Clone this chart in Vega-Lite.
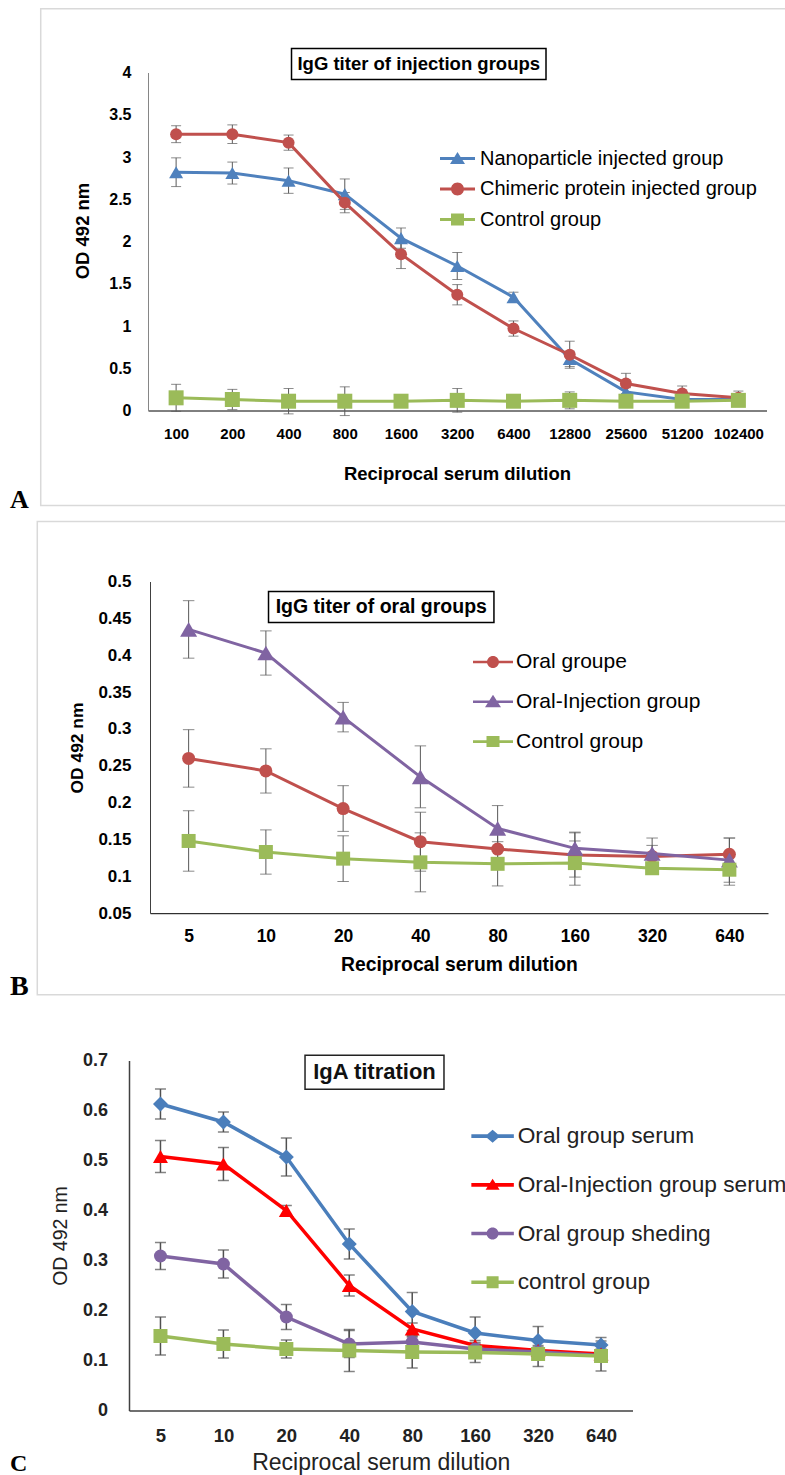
{
  "$schema": "https://vega.github.io/schema/vega-lite/v6.json",
  "config": {"padding": {"left": 10, "top": 7.5, "right": 0, "bottom": 0}, "view": {"stroke": null}, "background": "white", "font": "Liberation Sans"},
  "datasets": {
    "dA": [
      {"group": "Nanoparticle injected group", "dil": 100, "od": 2.82, "err": 0.17},
      {"group": "Nanoparticle injected group", "dil": 200, "od": 2.81, "err": 0.13},
      {"group": "Nanoparticle injected group", "dil": 400, "od": 2.72, "err": 0.15},
      {"group": "Nanoparticle injected group", "dil": 800, "od": 2.56, "err": 0.18},
      {"group": "Nanoparticle injected group", "dil": 1600, "od": 2.04, "err": 0.12},
      {"group": "Nanoparticle injected group", "dil": 3200, "od": 1.71, "err": 0.16},
      {"group": "Nanoparticle injected group", "dil": 6400, "od": 1.34, "err": 0.06},
      {"group": "Nanoparticle injected group", "dil": 12800, "od": 0.61, "err": 0.09},
      {"group": "Nanoparticle injected group", "dil": 25600, "od": 0.22, "err": 0.05},
      {"group": "Nanoparticle injected group", "dil": 51200, "od": 0.13, "err": 0.04},
      {"group": "Nanoparticle injected group", "dil": 102400, "od": 0.13, "err": 0.05},
      {"group": "Chimeric protein injected group", "dil": 100, "od": 3.27, "err": 0.10},
      {"group": "Chimeric protein injected group", "dil": 200, "od": 3.27, "err": 0.11},
      {"group": "Chimeric protein injected group", "dil": 400, "od": 3.17, "err": 0.09},
      {"group": "Chimeric protein injected group", "dil": 800, "od": 2.46, "err": 0.12},
      {"group": "Chimeric protein injected group", "dil": 1600, "od": 1.85, "err": 0.17},
      {"group": "Chimeric protein injected group", "dil": 3200, "od": 1.37, "err": 0.12},
      {"group": "Chimeric protein injected group", "dil": 6400, "od": 0.97, "err": 0.09},
      {"group": "Chimeric protein injected group", "dil": 12800, "od": 0.66, "err": 0.16},
      {"group": "Chimeric protein injected group", "dil": 25600, "od": 0.32, "err": 0.12},
      {"group": "Chimeric protein injected group", "dil": 51200, "od": 0.20, "err": 0.09},
      {"group": "Chimeric protein injected group", "dil": 102400, "od": 0.15, "err": 0.08},
      {"group": "Control group", "dil": 100, "od": 0.15, "err": 0.16},
      {"group": "Control group", "dil": 200, "od": 0.13, "err": 0.12},
      {"group": "Control group", "dil": 400, "od": 0.11, "err": 0.15},
      {"group": "Control group", "dil": 800, "od": 0.11, "err": 0.17},
      {"group": "Control group", "dil": 1600, "od": 0.11, "err": 0.06},
      {"group": "Control group", "dil": 3200, "od": 0.12, "err": 0.14},
      {"group": "Control group", "dil": 6400, "od": 0.11, "err": 0.05},
      {"group": "Control group", "dil": 12800, "od": 0.12, "err": 0.10},
      {"group": "Control group", "dil": 25600, "od": 0.11, "err": 0.05},
      {"group": "Control group", "dil": 51200, "od": 0.11, "err": 0.05},
      {"group": "Control group", "dil": 102400, "od": 0.12, "err": 0.05}
    ],
    "dB": [
      {"group": "Oral groupe", "dil": 5, "od": 0.260, "err": 0.039},
      {"group": "Oral groupe", "dil": 10, "od": 0.243, "err": 0.030},
      {"group": "Oral groupe", "dil": 20, "od": 0.192, "err": 0.031},
      {"group": "Oral groupe", "dil": 40, "od": 0.147, "err": 0.040},
      {"group": "Oral groupe", "dil": 80, "od": 0.137, "err": 0.020},
      {"group": "Oral groupe", "dil": 160, "od": 0.129, "err": 0.030},
      {"group": "Oral groupe", "dil": 320, "od": 0.127, "err": 0.015},
      {"group": "Oral groupe", "dil": 640, "od": 0.130, "err": 0.022},
      {"group": "Oral-Injection group", "dil": 5, "od": 0.435, "err": 0.039},
      {"group": "Oral-Injection group", "dil": 10, "od": 0.403, "err": 0.030},
      {"group": "Oral-Injection group", "dil": 20, "od": 0.316, "err": 0.020},
      {"group": "Oral-Injection group", "dil": 40, "od": 0.235, "err": 0.042},
      {"group": "Oral-Injection group", "dil": 80, "od": 0.165, "err": 0.031},
      {"group": "Oral-Injection group", "dil": 160, "od": 0.138, "err": 0.022},
      {"group": "Oral-Injection group", "dil": 320, "od": 0.131, "err": 0.021},
      {"group": "Oral-Injection group", "dil": 640, "od": 0.122, "err": 0.030},
      {"group": "Control group", "dil": 5, "od": 0.148, "err": 0.041},
      {"group": "Control group", "dil": 10, "od": 0.133, "err": 0.030},
      {"group": "Control group", "dil": 20, "od": 0.124, "err": 0.031},
      {"group": "Control group", "dil": 40, "od": 0.119, "err": 0.040},
      {"group": "Control group", "dil": 80, "od": 0.117, "err": 0.030},
      {"group": "Control group", "dil": 160, "od": 0.118, "err": 0.030},
      {"group": "Control group", "dil": 320, "od": 0.111, "err": 0.008},
      {"group": "Control group", "dil": 640, "od": 0.109, "err": 0.021}
    ],
    "dC": [
      {"group": "Oral group serum", "dil": 5, "od": 0.613, "err": 0.030},
      {"group": "Oral group serum", "dil": 10, "od": 0.577, "err": 0.020},
      {"group": "Oral group serum", "dil": 20, "od": 0.507, "err": 0.038},
      {"group": "Oral group serum", "dil": 40, "od": 0.333, "err": 0.030},
      {"group": "Oral group serum", "dil": 80, "od": 0.198, "err": 0.038},
      {"group": "Oral group serum", "dil": 160, "od": 0.155, "err": 0.032},
      {"group": "Oral group serum", "dil": 320, "od": 0.140, "err": 0.028},
      {"group": "Oral group serum", "dil": 640, "od": 0.131, "err": 0.015},
      {"group": "Oral-Injection group serum", "dil": 5, "od": 0.508, "err": 0.032},
      {"group": "Oral-Injection group serum", "dil": 10, "od": 0.493, "err": 0.033},
      {"group": "Oral-Injection group serum", "dil": 20, "od": 0.400, "err": 0.010},
      {"group": "Oral-Injection group serum", "dil": 40, "od": 0.250, "err": 0.021},
      {"group": "Oral-Injection group serum", "dil": 80, "od": 0.163, "err": 0.012},
      {"group": "Oral-Injection group serum", "dil": 160, "od": 0.130, "err": 0.010},
      {"group": "Oral-Injection group serum", "dil": 320, "od": 0.120, "err": 0.010},
      {"group": "Oral-Injection group serum", "dil": 640, "od": 0.113, "err": 0.010},
      {"group": "Oral group sheding", "dil": 5, "od": 0.309, "err": 0.027},
      {"group": "Oral group sheding", "dil": 10, "od": 0.293, "err": 0.028},
      {"group": "Oral group sheding", "dil": 20, "od": 0.187, "err": 0.025},
      {"group": "Oral group sheding", "dil": 40, "od": 0.133, "err": 0.027},
      {"group": "Oral group sheding", "dil": 80, "od": 0.137, "err": 0.010},
      {"group": "Oral group sheding", "dil": 160, "od": 0.123, "err": 0.010},
      {"group": "Oral group sheding", "dil": 320, "od": 0.117, "err": 0.010},
      {"group": "Oral group sheding", "dil": 640, "od": 0.110, "err": 0.010},
      {"group": "control group", "dil": 5, "od": 0.149, "err": 0.038},
      {"group": "control group", "dil": 10, "od": 0.133, "err": 0.028},
      {"group": "control group", "dil": 20, "od": 0.123, "err": 0.018},
      {"group": "control group", "dil": 40, "od": 0.120, "err": 0.042},
      {"group": "control group", "dil": 80, "od": 0.117, "err": 0.032},
      {"group": "control group", "dil": 160, "od": 0.116, "err": 0.020},
      {"group": "control group", "dil": 320, "od": 0.113, "err": 0.025},
      {"group": "control group", "dil": 640, "od": 0.109, "err": 0.030}
    ]
  },
  "spacing": 7,
  "resolve": {"scale": {"x": "independent", "y": "independent", "color": "independent", "shape": "independent"}, "legend": {"color": "independent", "shape": "independent"}},
  "vconcat": [
    {
      "width": 637.5,
      "height": 338,
      "title": {"text": "A", "orient": "bottom", "anchor": "start", "frame": "group", "dx": -119, "offset": -19, "font": "Liberation Serif", "fontSize": 26, "fontWeight": "bold", "color": "#000", "baseline": "top"},
      "data": {"name": "dA"},
      "encoding": {
        "x": {"field": "dil", "type": "quantitative", "scale": {"type": "log", "base": 2, "domain": [70.7107, 144815.5], "nice": false, "rangeMin": 19},
          "axis": {"title": "Reciprocal serum dilution", "values": [100, 200, 400, 800, 1600, 3200, 6400, 12800, 25600, 51200, 102400], "format": "d", "grid": false, "ticks": false, "domainColor": "#000", "domainWidth": 1, "labelFont": "Liberation Sans", "labelFontSize": 15, "labelFontWeight": "bold", "labelColor": "#000", "labelPadding": 23, "labelBaseline": "middle", "labelFlush": false, "labelOverlap": false, "labelBound": false, "titleFont": "Liberation Sans", "titleFontSize": 18.5, "titleFontWeight": "bold", "titleColor": "#000", "titleY": 63, "titleX": 328, "titleBaseline": "middle"}},
        "y": {"field": "od", "type": "quantitative", "scale": {"domain": [0, 4], "nice": false, "zero": false},
          "axis": {"title": "OD 492 nm", "offset": -19, "values": [0, 0.5, 1, 1.5, 2, 2.5, 3, 3.5, 4], "format": "~g", "grid": false, "ticks": false, "domainColor": "#868686", "domainWidth": 1, "labelFont": "Liberation Sans", "labelFontSize": 16, "labelFontWeight": "bold", "labelColor": "#000", "labelPadding": 17, "labelFlush": false, "labelOverlap": false, "titleFont": "Liberation Sans", "titleFontSize": 18.5, "titleFontWeight": "bold", "titleColor": "#000", "titleX": -65.5, "titleY": 158, "titleBaseline": "middle", "titleAlign": "center", "titleAngle": 270}}
      },
      "layer": [
        {"transform": [{"filter": "datum.dil == 100 && datum.group == 'Control group'"}], "mark": {"type": "rect", "fill": "transparent", "stroke": "#d9d9d9", "strokeWidth": 1.5},
          "encoding": {"x": {"datum": 18.84}, "x2": {"datum": 193600}, "y": {"datum": 4.754}, "y2": {"datum": -1.124}}},
        {"transform": [{"filter": "datum.dil == 100 && datum.group == 'Control group'"}], "mark": {"type": "rect", "fill": "white", "stroke": "#000", "strokeWidth": 1.5},
          "encoding": {"x": {"datum": 414.8}, "x2": {"datum": 9557}, "y": {"datum": 4.284}, "y2": {"datum": 3.917}}},
        {"transform": [{"filter": "datum.dil == 100 && datum.group == 'Control group'"}], "mark": {"type": "text", "text": "IgG titer of injection groups", "font": "Liberation Sans", "fontSize": 18.5, "fontWeight": "bold", "color": "#000", "align": "center", "baseline": "middle"},
          "encoding": {"x": {"datum": 1991}, "y": {"datum": 4.1}}},
        {"mark": {"type": "errorbar", "ticks": true, "size": 10, "thickness": 1, "color": "#595959"},
          "encoding": {"y": {"field": "od", "type": "quantitative"}, "yError": {"field": "err"}}},
        {"transform": [{"filter": "datum.group === 'Nanoparticle injected group'"}],
          "mark": {"type": "line", "strokeWidth": 3, "color": "#4F81BD", "point": {"shape": "triangle-up", "size": 196, "filled": true, "opacity": 1, "color": "#4F81BD"}}},
        {"transform": [{"filter": "datum.group === 'Chimeric protein injected group'"}],
          "mark": {"type": "line", "strokeWidth": 3, "color": "#C0504D", "point": {"shape": "circle", "size": 144, "filled": true, "opacity": 1, "color": "#C0504D"}}},
        {"transform": [{"filter": "datum.group === 'Control group'"}],
          "mark": {"type": "line", "strokeWidth": 3, "color": "#9BBB59", "point": {"shape": "square", "size": 225, "filled": true, "opacity": 1, "color": "#9BBB59"}}},
        {"transform": [{"filter": "false"}],
          "mark": {"type": "point", "filled": true, "opacity": 1},
          "encoding": {
            "color": {"field": "group", "type": "nominal", "scale": {"domain": ["Nanoparticle injected group", "Chimeric protein injected group", "Control group"], "range": ["#4F81BD", "#C0504D", "#9BBB59"]},
              "legend": {"orient": "none", "legendX": 318.5, "legendY": 76, "title": null, "symbolSize": 400, "symbolStrokeWidth": 0, "symbolOffset": 0, "labelFont": "Liberation Sans", "labelFontSize": 20, "labelColor": "#000", "labelOffset": 12.5, "labelLimit": 600, "rowPadding": 10.5, "padding": 0}},
            "shape": {"field": "group", "type": "nominal", "scale": {"domain": ["Nanoparticle injected group", "Chimeric protein injected group", "Control group"], "range": ["M-1.75,-0.15L1.75,-0.15L1.75,0.15L-1.75,0.15Z M0,-0.65L0.75,0.55L-0.75,0.55Z", "M-1.75,-0.15L1.75,-0.15L1.75,0.15L-1.75,0.15Z M-0.65,0A0.65,0.65 0 1,1 0.65,0A0.65,0.65 0 1,1 -0.65,0Z", "M-1.75,-0.15L1.75,-0.15L1.75,0.15L-1.75,0.15Z M-0.65,-0.6L0.65,-0.6L0.65,0.6L-0.65,0.6Z"]},
              "legend": {"orient": "none", "legendX": 318.5, "legendY": 76, "title": null, "symbolSize": 400, "symbolStrokeWidth": 0, "symbolOffset": 0, "labelFont": "Liberation Sans", "labelFontSize": 20, "labelColor": "#000", "labelOffset": 12.5, "labelLimit": 600, "rowPadding": 10.5, "padding": 0}}
          }}
      ]
    },
    {
      "spacing": 50,
      "resolve": {"scale": {"x": "independent", "y": "independent", "color": "independent", "shape": "independent"}, "legend": {"color": "independent", "shape": "independent"}},
      "vconcat": [
        {
          "width": 639,
          "height": 331.7,
          "title": {"text": "B", "orient": "bottom", "anchor": "start", "frame": "group", "dx": -119, "offset": -22.6, "font": "Liberation Serif", "fontSize": 28, "fontWeight": "bold", "color": "#000", "baseline": "top"},
          "data": {"name": "dB"},
          "encoding": {
            "x": {"field": "dil", "type": "quantitative", "scale": {"type": "log", "base": 2, "domain": [3.5355, 905.097], "nice": false, "rangeMin": 21},
              "axis": {"title": "Reciprocal serum dilution", "values": [5, 10, 20, 40, 80, 160, 320, 640], "format": "d", "grid": false, "ticks": false, "domainColor": "#000", "domainWidth": 1, "labelFont": "Liberation Sans", "labelFontSize": 17.5, "labelFontWeight": "bold", "labelColor": "#000", "labelPadding": 23.6, "labelBaseline": "middle", "labelFlush": false, "labelOverlap": false, "labelBound": false, "titleFont": "Liberation Sans", "titleFontSize": 19.3, "titleFontWeight": "bold", "titleColor": "#000", "titleY": 51.3, "titleX": 330, "titleBaseline": "middle"}},
            "y": {"field": "od", "type": "quantitative", "scale": {"domain": [0.05, 0.5], "nice": false, "zero": false},
              "axis": {"title": "OD 492 nm", "offset": -21, "values": [0.05, 0.1, 0.15, 0.2, 0.25, 0.3, 0.35, 0.4, 0.45, 0.5], "format": "~g", "grid": false, "ticks": false, "domainColor": "#404040", "domainWidth": 1, "labelFont": "Liberation Sans", "labelFontSize": 17, "labelFontWeight": "bold", "labelColor": "#000", "labelPadding": 19, "labelFlush": false, "labelOverlap": false, "titleFont": "Liberation Sans", "titleFontSize": 17.4, "titleFontWeight": "bold", "titleColor": "#000", "titleX": -72.5, "titleY": 166, "titleBaseline": "middle", "titleAlign": "center", "titleAngle": 270}}
          },
          "layer": [
            {"transform": [{"filter": "datum.dil == 5 && datum.group == 'Control group'"}], "mark": {"type": "rect", "fill": "transparent", "stroke": "#d9d9d9", "strokeWidth": 1.5},
              "encoding": {"x": {"datum": 1.286}, "x2": {"datum": 1103}, "y": {"datum": 0.5814}, "y2": {"datum": -0.0607}}},
            {"transform": [{"filter": "datum.dil == 5 && datum.group == 'Control group'"}], "mark": {"type": "rect", "fill": "white", "stroke": "#000", "strokeWidth": 1.5},
              "encoding": {"x": {"datum": 10.24}, "x2": {"datum": 77.4}, "y": {"datum": 0.4864}, "y2": {"datum": 0.4444}}},
            {"transform": [{"filter": "datum.dil == 5 && datum.group == 'Control group'"}], "mark": {"type": "text", "text": "IgG titer of oral groups", "font": "Liberation Sans", "fontSize": 19.5, "fontWeight": "bold", "color": "#000", "align": "center", "baseline": "middle"},
              "encoding": {"x": {"datum": 28.16}, "y": {"datum": 0.4654}}},
            {"mark": {"type": "errorbar", "ticks": true, "size": 11.5, "thickness": 1, "color": "#595959"},
              "encoding": {"y": {"field": "od", "type": "quantitative"}, "yError": {"field": "err"}}},
            {"transform": [{"filter": "datum.group === 'Oral groupe'"}],
              "mark": {"type": "line", "strokeWidth": 3, "color": "#C0504D", "point": {"shape": "circle", "size": 169, "filled": true, "opacity": 1, "color": "#C0504D"}}},
            {"transform": [{"filter": "datum.group === 'Oral-Injection group'"}],
              "mark": {"type": "line", "strokeWidth": 3, "color": "#8064A2", "point": {"shape": "triangle-up", "size": 289, "filled": true, "opacity": 1, "color": "#8064A2"}}},
            {"transform": [{"filter": "datum.group === 'Control group'"}],
              "mark": {"type": "line", "strokeWidth": 3, "color": "#9BBB59", "point": {"shape": "square", "size": 196, "filled": true, "opacity": 1, "color": "#9BBB59"}}},
            {"transform": [{"filter": "false"}],
              "mark": {"type": "point", "filled": true, "opacity": 1},
              "encoding": {
                "color": {"field": "group", "type": "nominal", "scale": {"domain": ["Oral groupe", "Oral-Injection group", "Control group"], "range": ["#C0504D", "#8064A2", "#9BBB59"]},
                  "legend": {"orient": "none", "legendX": 353.5, "legendY": 70, "title": null, "symbolSize": 400, "symbolStrokeWidth": 0, "symbolOffset": 0, "labelFont": "Liberation Sans", "labelFontSize": 21, "labelColor": "#000", "labelOffset": 12.5, "labelLimit": 600, "rowPadding": 17.8, "padding": 0}},
                "shape": {"field": "group", "type": "nominal", "scale": {"domain": ["Oral groupe", "Oral-Injection group", "Control group"], "range": ["M-2,-0.13L2,-0.13L2,0.13L-2,0.13Z M-0.6,0A0.6,0.6 0 1,1 0.6,0A0.6,0.6 0 1,1 -0.6,0Z", "M-2,-0.13L2,-0.13L2,0.13L-2,0.13Z M0,-0.7L0.8,0.55L-0.8,0.55Z", "M-2,-0.13L2,-0.13L2,0.13L-2,0.13Z M-0.65,-0.55L0.65,-0.55L0.65,0.55L-0.65,0.55Z"]},
                  "legend": {"orient": "none", "legendX": 353.5, "legendY": 70, "title": null, "symbolSize": 400, "symbolStrokeWidth": 0, "symbolOffset": 0, "labelFont": "Liberation Sans", "labelFontSize": 21, "labelColor": "#000", "labelOffset": 12.5, "labelLimit": 600, "rowPadding": 17.8, "padding": 0}}
              }}
          ]
        },
        {
          "width": 503.5,
          "height": 350,
          "title": {"text": "C", "orient": "bottom", "anchor": "start", "frame": "group", "dx": -119, "offset": -22.5, "font": "Liberation Serif", "fontSize": 24, "fontWeight": "bold", "color": "#000", "baseline": "top"},
          "data": {"name": "dC"},
          "encoding": {
            "x": {"field": "dil", "type": "quantitative", "scale": {"type": "log", "base": 2, "domain": [3.5355, 905.097], "nice": false},
              "axis": {"title": "Reciprocal serum dilution", "values": [5, 10, 20, 40, 80, 160, 320, 640], "format": "d", "grid": false, "ticks": false, "domainColor": "#404040", "domainWidth": 1.5, "labelFont": "Liberation Sans", "labelFontSize": 18.5, "labelFontWeight": "bold", "labelColor": "#222", "labelPadding": 24.7, "labelBaseline": "middle", "labelFlush": false, "labelOverlap": false, "labelBound": false, "titleFont": "Liberation Sans", "titleFontSize": 23, "titleFontWeight": "normal", "titleColor": "#222", "titleY": 51.7, "titleBaseline": "middle"}},
            "y": {"field": "od", "type": "quantitative", "scale": {"domain": [0, 0.7], "nice": false, "zero": false},
              "axis": {"title": "OD 492 nm", "values": [0, 0.1, 0.2, 0.3, 0.4, 0.5, 0.6, 0.7], "format": "~g", "grid": false, "ticks": false, "domainColor": "#404040", "domainWidth": 1.5, "labelFont": "Liberation Sans", "labelFontSize": 18, "labelFontWeight": "bold", "labelColor": "#222", "labelPadding": 21.5, "labelFlush": false, "labelOverlap": false, "titleFont": "Liberation Sans", "titleFontSize": 19.5, "titleFontWeight": "normal", "titleColor": "#222", "titleX": -69, "titleY": 175, "titleBaseline": "middle", "titleAlign": "center", "titleAngle": 270}}
          },
          "layer": [
            {"transform": [{"filter": "datum.dil == 5 && datum.group == 'control group'"}], "mark": {"type": "rect", "fill": "white", "stroke": "#222", "strokeWidth": 1.5},
              "encoding": {"x": {"datum": 24.57}, "x2": {"datum": 113.5}, "y": {"datum": 0.7106}, "y2": {"datum": 0.6426}}},
            {"transform": [{"filter": "datum.dil == 5 && datum.group == 'control group'"}], "mark": {"type": "text", "text": "IgA titration", "font": "Liberation Sans", "fontSize": 22, "fontWeight": "bold", "color": "#111", "align": "center", "baseline": "middle"},
              "encoding": {"x": {"datum": 52.8}, "y": {"datum": 0.6766}}},
            {"mark": {"type": "errorbar", "ticks": true, "size": 11, "thickness": 1.5, "color": "#505050"},
              "encoding": {"y": {"field": "od", "type": "quantitative"}, "yError": {"field": "err"}}},
            {"transform": [{"filter": "datum.group === 'Oral group serum'"}],
              "mark": {"type": "line", "strokeWidth": 3.5, "color": "#4A7EBB", "point": {"shape": "diamond", "size": 225, "filled": true, "opacity": 1, "color": "#4A7EBB"}}},
            {"transform": [{"filter": "datum.group === 'Oral-Injection group serum'"}],
              "mark": {"type": "line", "strokeWidth": 3.5, "color": "#FF0000", "point": {"shape": "triangle-up", "size": 225, "filled": true, "opacity": 1, "color": "#FF0000"}}},
            {"transform": [{"filter": "datum.group === 'Oral group sheding'"}],
              "mark": {"type": "line", "strokeWidth": 3.5, "color": "#8064A2", "point": {"shape": "circle", "size": 169, "filled": true, "opacity": 1, "color": "#8064A2"}}},
            {"transform": [{"filter": "datum.group === 'control group'"}],
              "mark": {"type": "line", "strokeWidth": 3.5, "color": "#9BBB59", "point": {"shape": "square", "size": 196, "filled": true, "opacity": 1, "color": "#9BBB59"}}},
            {"transform": [{"filter": "false"}],
              "mark": {"type": "point", "filled": true, "opacity": 1},
              "encoding": {
                "color": {"field": "group", "type": "nominal", "scale": {"domain": ["Oral group serum", "Oral-Injection group serum", "Oral group sheding", "control group"], "range": ["#4A7EBB", "#FF0000", "#8064A2", "#9BBB59"]},
                  "legend": {"orient": "none", "legendX": 352.25, "legendY": 64.3, "title": null, "symbolSize": 400, "symbolStrokeWidth": 0, "symbolOffset": 0, "labelFont": "Liberation Sans", "labelFontSize": 22.7, "labelColor": "#222", "labelOffset": 13.75, "labelLimit": 800, "rowPadding": 24.7, "padding": 0}},
                "shape": {"field": "group", "type": "nominal", "scale": {"domain": ["Oral group serum", "Oral-Injection group serum", "Oral group sheding", "control group"], "range": ["M-2.125,-0.18L2.125,-0.18L2.125,0.18L-2.125,0.18Z M0,-0.65L0.75,0L0,0.65L-0.75,0Z", "M-2.125,-0.18L2.125,-0.18L2.125,0.18L-2.125,0.18Z M0,-0.6L0.7,0.5L-0.7,0.5Z", "M-2.125,-0.18L2.125,-0.18L2.125,0.18L-2.125,0.18Z M-0.6,0A0.6,0.6 0 1,1 0.6,0A0.6,0.6 0 1,1 -0.6,0Z", "M-2.125,-0.18L2.125,-0.18L2.125,0.18L-2.125,0.18Z M-0.6,-0.6L0.6,-0.6L0.6,0.6L-0.6,0.6Z"]},
                  "legend": {"orient": "none", "legendX": 352.25, "legendY": 64.3, "title": null, "symbolSize": 400, "symbolStrokeWidth": 0, "symbolOffset": 0, "labelFont": "Liberation Sans", "labelFontSize": 22.7, "labelColor": "#222", "labelOffset": 13.75, "labelLimit": 800, "rowPadding": 24.7, "padding": 0}}
              }}
          ]
        }
      ]
    }
  ]
}
